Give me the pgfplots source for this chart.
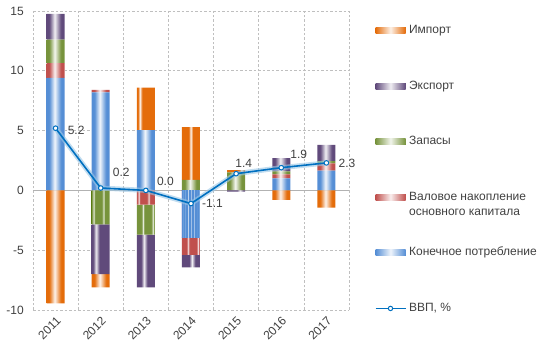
\documentclass[12pt,border=0pt]{standalone}
\usepackage{fontspec}
\setmainfont{Liberation Sans}
\usepackage{pgfplots}
\usepackage{pgfplotstable}
\pgfplotsset{compat=1.18}
\definecolor{cImp}{HTML}{E46C0A}
\definecolor{cExp}{HTML}{604A7B}
\definecolor{cZap}{HTML}{77933C}
\definecolor{cVal}{HTML}{C0504D}
\definecolor{cKon}{HTML}{558ED5}
\definecolor{cGDP}{HTML}{0070C0}
\definecolor{cTxt}{HTML}{404040}
\definecolor{cGrid}{HTML}{BFBFBF}
% one horizontal shading per colour, with a light stripe in the middle of each of the 7 bars
\newcommand\barshade[1]{%
  \colorlet{#1L}{#1!8!white}%
  \pgfdeclarehorizontalshading{sh#1}{100bp}{%
    color(0bp)=(#1);
    color(25.467bp)=(#1); color(26.402bp)=(#1L); color(27.493bp)=(#1);
    color(33.282bp)=(#1); color(34.216bp)=(#1L); color(35.307bp)=(#1);
    color(41.096bp)=(#1); color(42.031bp)=(#1L); color(43.121bp)=(#1);
    color(48.910bp)=(#1); color(49.845bp)=(#1L); color(50.936bp)=(#1);
    color(56.725bp)=(#1); color(57.659bp)=(#1L); color(58.750bp)=(#1);
    color(64.539bp)=(#1); color(65.474bp)=(#1L); color(66.564bp)=(#1);
    color(72.353bp)=(#1); color(73.288bp)=(#1L); color(74.378bp)=(#1);
    color(100bp)=(#1)}}
\barshade{cImp}\barshade{cExp}\barshade{cZap}\barshade{cVal}\barshade{cKon}
\tikzset{
  sbar/.style={draw=none, shade, shading=sh#1},
  shbar/.style={draw=none, fill=#1, left color=#1, right color=#1, middle color=#1!10!white}}
\pgfplotsset{
  base/.style={scale only axis, width=316pt, height=299pt,
    xmin=-0.5, xmax=6.5, ymin=-10, ymax=15,
    at={(33pt,41pt)}, anchor=south west},
  patchleg/.style={legend image code/.code={\path[##1] (0pt,-3pt) rectangle (30pt,3pt);}},
  lineleg/.style={legend image code/.code={\draw[##1, mark repeat=2, mark phase=2] plot coordinates {(0pt,0pt) (15pt,0pt) (30pt,0pt)};}},
}
% positive parts of the contributions
\pgfplotstableread{
x C V Z E I
0 9.4 1.25 1.95 2.15 0
1 8.2 0.2 0 0 0
2 5.05 0 0 0 3.55
3 0 0 0.88 0 4.4
4 0 0 1.5 0 0.2
5 1.0 0.35 0.25 1.1 0
6 1.65 0.6 0.2 1.35 0
}\pos
% negative parts of the contributions
\pgfplotstableread{
x C V Z E I
0 0 0 0 0 -9.45
1 0 0 -2.85 -4.15 -1.1
2 0 -1.2 -2.5 -4.4 0
3 -3.95 -1.45 0 -1.03 0
4 0 0 0 -0.1 0
5 0 0 0 0 -0.8
6 0 0 0 0 -1.45
}\neg
\pgfplotstableread{
x y
0 5.2
1 0.2
2 0.0
3 -1.1
4 1.4
5 1.9
6 2.3
}\gdp
\begin{document}
\begin{tikzpicture}
\path[use as bounding box] (0,0) rectangle (547pt,351pt);
\begin{axis}[base, ybar stacked, bar width=18pt,
  axis line style={draw=none},
  major tick length=0pt, minor tick length=0pt,
  xtick={0,1,2,3,4,5,6},
  xticklabels={2011,2012,2013,2014,2015,2016,2017},
  minor xtick={-0.5,0.5,1.5,2.5,3.5,4.5,5.5,6.5},
  xminorgrids=true,
  ytick={-10,-5,0,5,10,15}, ymajorgrids=true,
  grid style={cGrid, dash pattern=on 2.5pt off 2pt, line width=0.7pt},
  major grid style={cGrid, dash pattern=on 2.5pt off 2pt, line width=0.7pt},
  minor grid style={cGrid, dash pattern=on 2.5pt off 2pt, line width=0.7pt},
  extra y ticks={0}, extra y tick labels={},
  extra y tick style={ymajorgrids=true, major grid style={solid, black!30, line width=1.2pt}},
  tick label style={text=cTxt},
  yticklabel style={xshift=-5pt},
  xticklabel style={rotate=45, anchor=north east, xshift=0pt},
  /pgf/number format/assume math mode=true,
]
\addplot[sbar=cKon] table[x=x,y=C] {\pos};
\addplot[sbar=cVal] table[x=x,y=V] {\pos};
\addplot[sbar=cZap] table[x=x,y=Z] {\pos};
\addplot[sbar=cExp] table[x=x,y=E] {\pos};
\addplot[sbar=cImp] table[x=x,y=I] {\pos};
\end{axis}
\begin{axis}[base, hide axis, ybar stacked, bar width=18pt]
\addplot[sbar=cKon] table[x=x,y=C] {\neg};
\addplot[sbar=cVal] table[x=x,y=V] {\neg};
\addplot[sbar=cZap] table[x=x,y=Z] {\neg};
\addplot[sbar=cExp] table[x=x,y=E] {\neg};
\addplot[sbar=cImp] table[x=x,y=I] {\neg};
\end{axis}
\begin{axis}[base, hide axis, clip=false,
  legend cell align=left,
  legend style={at={(1.082,0.955)}, anchor=north west, draw=none, fill=none,
    inner sep=0pt, outer sep=0pt, row sep=43.6pt, column sep=3pt,
    nodes={inner sep=0pt, text height=9pt, text depth=3pt, text=cTxt}},
]
\addplot[color=cGDP!40, line width=5pt, opacity=0.6, forget plot] table[x=x,y=y] {\gdp};
\addplot[cGDP, line width=1.6pt, mark=*, mark size=2.3pt,
  mark options={fill=white, draw=cGDP, line width=1pt}, forget plot] table[x=x,y=y] {\gdp};
\addlegendimage{patchleg, shbar=cImp}
\addlegendentry{Импорт}
\addlegendimage{patchleg, shbar=cExp}
\addlegendentry{Экспорт}
\addlegendimage{patchleg, shbar=cZap}
\addlegendentry{Запасы}
\addlegendimage{patchleg, shbar=cVal}
\addlegendentry{\begin{tabular}[t]{@{}l@{}}Валовое накопление\\[1pt]основного капитала\end{tabular}}
\addlegendimage{patchleg, shbar=cKon}
\addlegendentry{Конечное потребление}
\addlegendimage{lineleg, cGDP, line width=1.2pt, mark=*, mark size=2.2pt,
  mark options={fill=white, draw=cGDP, line width=1pt}}
\addlegendentry{ВВП, \%}
\node[anchor=west, inner sep=0pt, text=cTxt, xshift=12pt, yshift=-2pt] at (axis cs:0,5.2) {5.2};
\node[anchor=west, inner sep=0pt, text=cTxt, xshift=12pt, yshift=16pt] at (axis cs:1,0.2) {0.2};
\node[anchor=west, inner sep=0pt, text=cTxt, xshift=11pt, yshift=9pt] at (axis cs:2,0.0) {0.0};
\node[anchor=west, inner sep=0pt, text=cTxt, xshift=11pt, yshift=0pt] at (axis cs:3,-1.1) {-1.1};
\node[anchor=west, inner sep=0pt, text=cTxt, xshift=-1pt, yshift=10pt] at (axis cs:4,1.4) {1.4};
\node[anchor=west, inner sep=0pt, text=cTxt, xshift=9pt, yshift=13pt] at (axis cs:5,1.9) {1.9};
\node[anchor=west, inner sep=0pt, text=cTxt, xshift=12pt, yshift=0pt] at (axis cs:6,2.3) {2.3};
\end{axis}
\end{tikzpicture}
\end{document}
